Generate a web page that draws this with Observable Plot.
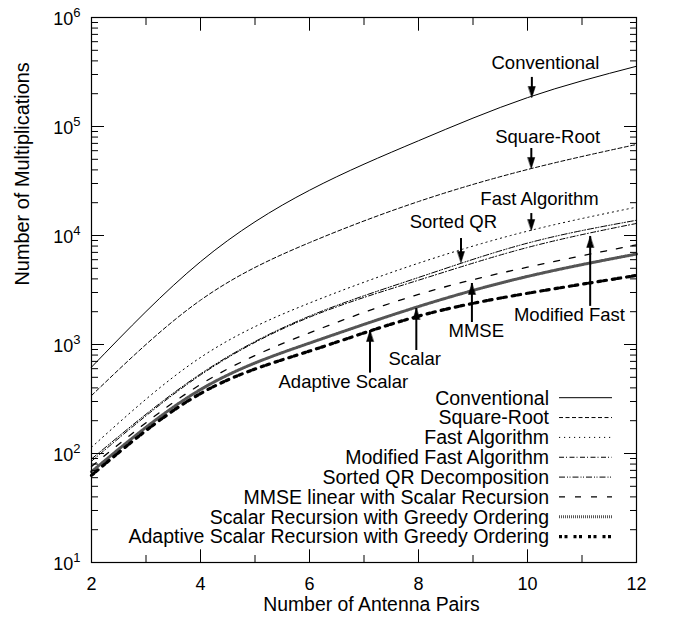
<!DOCTYPE html>
<html><head><meta charset="utf-8">
<script src="https://cdn.jsdelivr.net/npm/d3@7"></script>
<script src="https://cdn.jsdelivr.net/npm/@observablehq/plot@0.6"></script>
<style>
body{margin:0;background:#fff;}
#wrap{position:relative;width:677px;height:625px;font-family:"Liberation Sans",Arial,sans-serif;}
#wrap svg{position:absolute;left:0;top:0;}
</style></head><body><div id="wrap"></div>
<script>
// ---- data ----
const antennaPairs = [2, 4, 6, 8, 10, 12];
const conventional   = [620, 5750, 26000, 74000, 184000, 357000];
const squareRoot     = [340, 2550, 8600, 20500, 40300, 68400];
const fastAlgorithm  = [114, 760, 2400, 5570, 10960, 18200];
const modifiedFast   = [85, 525, 1780, 3890, 7760, 12900];
const sortedQR       = [89, 537, 1820, 4120, 8510, 13800];
const mmseScalar     = [76, 430, 1280, 2880, 5120, 8220];
const scalarGreedy   = [68, 386, 1030, 2230, 4210, 6760];
const adaptiveScalar = [63, 355, 870, 1820, 2950, 4300];

const seriesNames = ["Conventional", "Square-Root", "Fast Algorithm", "Modified Fast Algorithm",
  "Sorted QR Decomposition", "MMSE linear with Scalar Recursion",
  "Scalar Recursion with Greedy Ordering", "Adaptive Scalar Recursion with Greedy Ordering"];
const seriesValues = [conventional, squareRoot, fastAlgorithm, modifiedFast, sortedQR, mmseScalar, scalarGreedy, adaptiveScalar];

const xTicksMajor = [2, 4, 6, 8, 10, 12];
const xTicksMinor = [3, 5, 7, 9, 11];
const yTicksMajor = [1e1, 1e2, 1e3, 1e4, 1e5, 1e6];
const yTicksMinor = [1e1, 1e2, 1e3, 1e4, 1e5].flatMap(d => [2,3,4,5,6,7,8,9].map(m => m * d));

const annLabels  = ["Conventional", "Square-Root", "Fast Algorithm", "Sorted QR", "Modified Fast", "MMSE", "Scalar", "Adaptive Scalar"];
const annArrowX  = [10.08, 10.07, 10.07, 8.78, 11.15, 8.98, 7.96, 7.11];
const annTip     = [184500, 41200, 11100, 5650, 9800, 3630, 2140, 1343];
const annTail    = [282000, 62800, 15900, 9380, 2540, 1807, 1000, 620];
const annTextX   = [10.33, 10.37, 10.22, 8.64, 10.77, 9.06, 7.93, 6.62];
const annTextY   = [378000, 79300, 21800, 13400, 1880, 1315, 728, 451];

// ---- styles ----
const lineStyles = [
  {w: 1, dash: null, c: "black"},
  {w: 1, dash: "4,2.5", c: "black"},
  {w: 1, dash: "1.2,3.8", c: "black"},
  {w: 1, dash: "5,2,1,2.5", c: "black"},
  {w: 1, dash: "6,2,1,1.5,1,2", c: "black"},
  {w: 1.3, dash: "6,10", c: "black"},
  {w: 3, dash: "1,1", c: "#555"},
  {w: 3.2, dash: "3,2.5,3,6", c: "black"}
];
const FONT = '"Liberation Sans", Arial, Helvetica, sans-serif';

const rows = seriesNames.map((name, i) => antennaPairs.map((x, j) => ({name, x, y: seriesValues[i][j]})));
const annIdx = annLabels.map((_, i) => i);
const upIdx = annIdx.filter(i => annTail[i] < annTip[i]);
const downIdx = annIdx.filter(i => annTail[i] > annTip[i]);

const headShape = {draw(ctx, l, r) { ctx.moveTo(0, -l); ctx.lineTo(-r, 0); ctx.lineTo(r, 0); ctx.closePath(); }};

const tickOpts = (anchor, size) => ({anchor, tickSize: size, fill: "none", label: null, strokeWidth: 1});

const chart = Plot.plot({
  width: 677, height: 625,
  marginLeft: 91, marginRight: 41, marginTop: 17, marginBottom: 63,
  style: {fontFamily: FONT, fontSize: "18px", color: "black", background: "white", overflow: "visible"},
  x: {domain: [2, 12], axis: null},
  y: {type: "log", domain: [10, 1e6], axis: null},
  marks: [
    ...rows.map((r, i) => Plot.line(r, {x: "x", y: "y", curve: "natural", stroke: lineStyles[i].c,
      strokeWidth: lineStyles[i].w, strokeDasharray: lineStyles[i].dash})),
    Plot.frame({stroke: "black", strokeWidth: 1.2}),
    Plot.axisX(xTicksMajor, tickOpts("bottom", -12.7)),
    Plot.axisX(xTicksMajor, tickOpts("top", -12.7)),
    Plot.axisX(xTicksMinor, tickOpts("bottom", -7)),
    Plot.axisX(xTicksMinor, tickOpts("top", -7)),
    Plot.axisY(yTicksMajor, tickOpts("left", -13)),
    Plot.axisY(yTicksMajor, tickOpts("right", -13)),
    Plot.axisY(yTicksMinor, tickOpts("left", -7)),
    Plot.axisY(yTicksMinor, tickOpts("right", -7)),
    Plot.axisX(xTicksMajor, {anchor: "bottom", tickSize: 0, tickPadding: 14.5, fontSize: 18, label: null, tickFormat: d => String(d)}),
    Plot.axisY(yTicksMajor, {anchor: "left", tickSize: 0, tickPadding: 11, fontSize: 18, dy: 2, label: null,
      tickFormat: d => "10^" + Math.round(Math.log10(d))}),
    Plot.text(["Number of Antenna Pairs"], {text: d => d, frameAnchor: "bottom", dx: 7.5, dy: 48, fontSize: 19.4}),
    Plot.text(["Number of Multiplications"], {text: d => d, frameAnchor: "left", rotate: -90, dx: -68.5, dy: -4.5, fontSize: 19.9}),
    Plot.ruleX(downIdx, {x: i => annArrowX[i], y1: i => annTail[i], y2: i => annTip[i], strokeWidth: 2, insetBottom: 6}),
    Plot.ruleX(upIdx, {x: i => annArrowX[i], y1: i => annTail[i], y2: i => annTip[i], strokeWidth: 2, insetTop: 6}),
    Plot.vector(annIdx, {x: i => annArrowX[i], y: i => annTip[i], length: 11, r: 3.5, anchor: "end",
      rotate: i => annTail[i] > annTip[i] ? 180 : 0, shape: headShape, fill: "black", stroke: "black", strokeWidth: 0.5}),
    Plot.text(annIdx, {x: i => annTextX[i], y: i => annTextY[i], text: i => annLabels[i], fontSize: 18.5})
  ]
});

// superscript exponents on y tick labels
d3.select(chart).selectAll('text').each(function() {
  const t = this.textContent;
  if (!/^10\^\d$/.test(t)) return;
  const m = t.split("^");
  this.textContent = "";
  const sel = d3.select(this);
  sel.append("tspan").text(m[0]);
  sel.append("tspan").attr("dy", "-8").attr("font-size", "13px").text(m[1]);
});

const wrap = document.getElementById("wrap");
wrap.appendChild(chart);

// legend overlay
const legend = d3.select(wrap).append("svg").attr("width", 677).attr("height", 625)
  .style("pointer-events", "none");
const legTop = 397.7, legStep = 19.85, legTextX = 549, legL1 = 559, legL2 = 612;
seriesNames.forEach((name, i) => {
  const y = legTop + i * legStep;
  legend.append("text").attr("x", legTextX).attr("y", y).attr("dy", "0.35em")
    .attr("text-anchor", "end").attr("font-family", FONT).attr("font-size", 19.5).attr("fill", "black").text(name);
  legend.append("line").attr("x1", legL1).attr("x2", legL2).attr("y1", y).attr("y2", y)
    .attr("stroke", lineStyles[i].c).attr("stroke-width", lineStyles[i].w)
    .attr("stroke-dasharray", lineStyles[i].dash);
});
</script></body></html>
